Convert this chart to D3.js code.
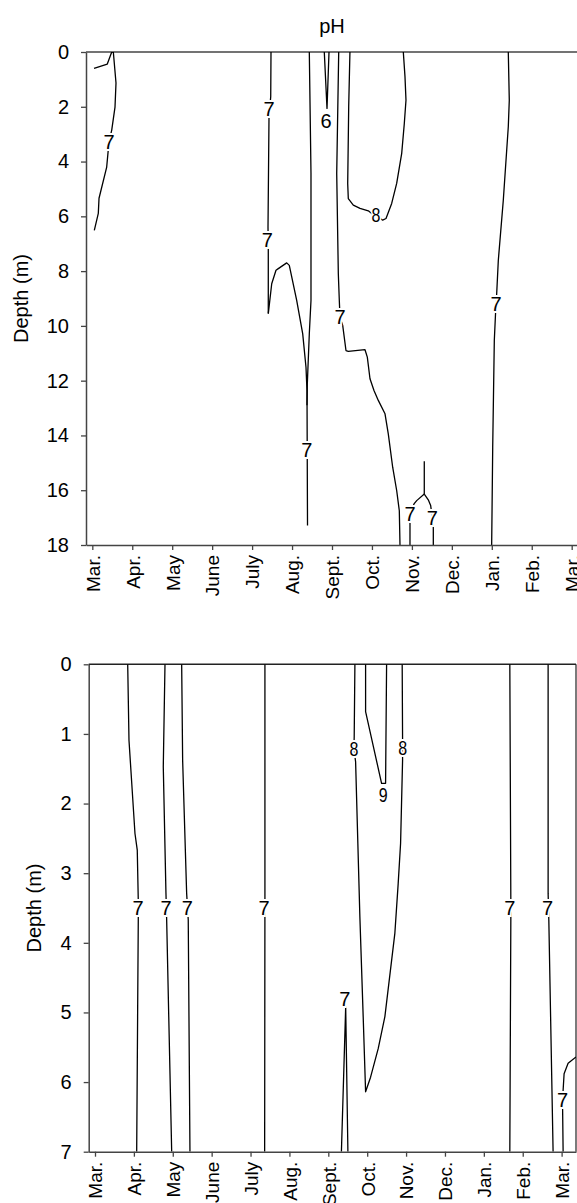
<!DOCTYPE html>
<html><head><meta charset="utf-8">
<script src="https://cdn.jsdelivr.net/npm/d3@7"></script>
<style>body{margin:0;background:#fff}svg{display:block}text{font-family:"Liberation Sans",Arial,sans-serif}</style>
</head><body><svg id="c" width="577" height="1203"></svg>
<script>
// ---- data (x = months since March, y = depth in m) ----
const months = ["Mar.","Apr.","May","June","July","Aug.","Sept.","Oct.","Nov.","Dec.","Jan.","Feb.","Mar."];
const topDepthTicks = [0,2,4,6,8,10,12,14,16,18];
const bottomDepthTicks = [0,1,2,3,4,5,6,7];
const title = "pH";

// top panel contour lines
const topLineA = [[0.043,0.60],[0.375,0.44],[0.486,0],[0.526,0],[0.593,1.13],[0.568,2.01],[0.486,2.85],[0.418,3.28],[0.36,4.20],[0.168,5.34],[0.150,5.89],[0.050,6.51]];
const topLineB1 = [[4.473,0],[4.466,1.63],[4.423,2.37],[4.398,6.39],[4.405,7.18],[4.405,9.07],[4.405,9.55]];
const topLineB2 = [[4.405,9.55],[4.491,8.46],[4.598,7.97],[4.656,7.91],[4.866,7.70],[4.931,7.79],[5.116,9.07],[5.267,10.29],[5.349,11.51],[5.374,12.36],[5.387,17.29]];
const topLineC = [[5.432,0],[5.474,4.42],[5.474,9.07],[5.432,10.29],[5.382,12.11],[5.374,12.9]];
const topLineD = [[5.807,0],[5.875,2.06],[5.925,0]];
const topLineE = [[6.168,0],[6.118,4.44],[6.158,8.09],[6.183,9.07],[6.2,9.68],[6.268,9.98],[6.35,10.90],[6.408,10.93],[6.826,10.87],[6.884,11.14],[6.951,11.93],[7.051,12.36],[7.159,12.72],[7.327,13.21],[7.409,13.94],[7.519,15.16],[7.619,16.01],[7.685,16.75],[7.702,18]];
const topLineF = [[6.449,0],[6.418,2.0],[6.393,4.80],[6.408,5.35],[6.533,5.59],[6.701,5.71],[6.909,5.80],[6.994,5.90],[7.101,5.96],[7.269,6.14],[7.352,6.08],[7.494,5.53],[7.619,4.80],[7.745,3.70],[7.810,2.61],[7.852,1.76],[7.827,0.90],[7.785,0]];
const topLineG = [[10.413,0],[10.438,1.76],[10.413,2.73],[10.288,5.41],[10.163,7.61],[10.123,8.82],[10.105,9.19],[10.063,10.53],[10.023,14.43],[9.997,18]];
const topLineH1 = [[8.31,14.94],[8.31,16.14]];
const topLineH2 = [[8.31,16.14],[8.12,16.38],[8.053,16.50],[7.952,16.87],[7.952,17.23],[7.952,18]];
const topLineH3 = [[8.31,16.14],[8.41,16.35],[8.47,16.56],[8.51,16.99],[8.536,17.36],[8.536,18]];
const topLabels = [[0.418,3.28,"7"],[4.423,2.06,"7"],[4.38,6.84,"7"],[5.367,14.53,"7"],[5.85,2.52,"6"],[6.2,9.68,"7"],[7.101,5.96,"8"],[10.105,9.19,"7"],[7.952,16.87,"7"],[8.51,16.99,"7"]];

// bottom panel contour lines
const botLine1 = [[0.841,0],[0.874,1.09],[1.028,2.43],[1.087,2.67],[1.113,3.39],[1.113,3.67],[1.072,7]];
const botLine2 = [[1.8,0],[1.756,1.47],[1.825,3.29],[1.843,3.67],[1.972,7]];
const botLine3 = [[2.229,0],[2.254,1.38],[2.357,3.29],[2.398,3.67],[2.442,7]];
const botLine4 = [[4.37,0],[4.37,3.39],[4.363,7]];
const botLine5 = [[6.337,7],[6.447,4.92],[6.504,7]];
const botLine6 = [[6.684,0],[6.666,1.04],[6.658,1.21],[6.702,1.40],[6.812,3.63],[6.897,5.06],[6.959,6.14],[7.087,5.93],[7.283,5.52],[7.455,5.06],[7.712,3.86],[7.797,3.15],[7.859,2.57],[7.910,1.38],[7.91,1.20],[7.91,1.06],[7.9,0]];
const botLine7 = [[6.959,0],[6.959,0.68],[7.370,1.71],[7.473,1.71],[7.499,0]];
const botLine8 = [[10.668,0],[10.694,3.39],[10.694,3.67],[10.668,7]];
const botLine9 = [[11.653,0],[11.653,3.29],[11.671,3.67],[11.781,7]];
const botLine10 = [[12.039,7],[12.023,6.26],[12.064,5.88],[12.167,5.73],[12.37,5.64]];
const botLabels = [[1.105,3.5,"7"],[1.83,3.5,"7"],[2.375,3.5,"7"],[4.345,3.5,"7"],[6.427,4.8,"7"],[6.658,1.21,"8"],[7.91,1.2,"8"],[7.411,1.88,"9"],[10.668,3.5,"7"],[11.638,3.5,"7"],[12.023,6.26,"7"]];

const topLines = [topLineA,topLineB1,topLineB2,topLineC,topLineD,topLineE,topLineF,topLineG,topLineH1,topLineH2,topLineH3];
const botLines = [botLine1,botLine2,botLine3,botLine4,botLine5,botLine6,botLine7,botLine8,botLine9,botLine10];

const svg = d3.select("#c");
const AX = "#444";
const FONT = '"Liberation Sans",Arial,sans-serif';

function panel(cfg){
  const x = d3.scaleLinear().domain(cfg.xDomain).range([cfg.left, cfg.right]);
  const y = d3.scaleLinear().domain([0, cfg.maxDepth]).range([cfg.top, cfg.bottom]);
  const g = svg.append("g");
  const cid = "clip" + cfg.id;
  svg.append("defs").append("clipPath").attr("id", cid)
    .append("rect").attr("x", cfg.left).attr("y", cfg.top)
    .attr("width", cfg.right - cfg.left).attr("height", cfg.bottom - cfg.top);

  // frame top/right
  g.append("line").attr("x1", cfg.left).attr("x2", cfg.right).attr("y1", cfg.top).attr("y2", cfg.top)
    .attr("stroke", cfg.topColor).attr("stroke-width", 1.4);
  g.append("line").attr("x1", cfg.right).attr("x2", cfg.right).attr("y1", cfg.top).attr("y2", cfg.bottom)
    .attr("stroke", cfg.topColor).attr("stroke-width", 1.2);

  const line = d3.line().x(p => x(p[0])).y(p => y(p[1]));
  const cg = g.append("g").attr("clip-path", `url(#${cid})`);
  cg.selectAll("path.ct").data(cfg.lines).join("path").attr("class","ct")
    .attr("d", line).attr("fill","none").attr("stroke","#000").attr("stroke-width",1.3)
    .attr("stroke-linejoin","round");
  cg.selectAll("text.lb").data(cfg.labels).join("text").attr("class","lb")
    .attr("transform", d => `translate(${x(d[0])},${y(d[1])}) scale(${d[2]==="7"||d[2]==="6"?1:0.8},1)`)
    .attr("text-anchor","middle").attr("dy","0.36em")
    .attr("font-size", 20).attr("fill","#000")
    .attr("stroke","#fff").attr("stroke-width",4).attr("paint-order","stroke")
    .text(d => d[2]);

  // y axis
  const ya = d3.axisLeft(y).tickValues(cfg.yTicks).tickFormat(d3.format("d"))
    .tickSize(5).tickSizeOuter(0).tickPadding(12);
  const yg = g.append("g").attr("transform", `translate(${cfg.left},0)`).call(ya);
  yg.select(".domain").attr("stroke", AX).attr("stroke-width", 1.5);
  yg.selectAll(".tick line").attr("stroke", AX).attr("stroke-width", 1.3);
  yg.selectAll(".tick text").attr("font-size", 20).attr("fill","#000").attr("font-family", FONT);

  // x axis
  const xa = d3.axisBottom(x).tickValues(d3.range(months.length)).tickFormat(i => months[i])
    .tickSize(5).tickSizeOuter(0);
  const xg = g.append("g").attr("transform", `translate(0,${cfg.bottom})`).call(xa);
  xg.select(".domain").attr("stroke", AX).attr("stroke-width", 1.5);
  xg.selectAll(".tick line").attr("stroke", AX).attr("stroke-width", 1.3);
  xg.selectAll(".tick text").attr("font-size", 19).attr("fill","#000")
    .attr("font-family", FONT)
    .attr("transform","rotate(-90)").attr("text-anchor","end")
    .attr("x", -10).attr("y", 0).attr("dy","0.36em");

  // y label
  g.append("text").attr("transform", `translate(${cfg.ylabelX},${(cfg.top+cfg.bottom)/2}) rotate(-90)`)
    .attr("text-anchor","middle").attr("dy","0.36em").attr("font-size",20).text("Depth (m)");
  return {x, y};
}

panel({id:"t", xDomain:[-0.158,12.158], left:86, right:578, top:52, bottom:545, maxDepth:18,
  yTicks: topDepthTicks, lines: topLines, labels: topLabels, ylabelX: 21, topColor: AX});
panel({id:"b", xDomain:[-0.162,12.37], left:88.7, right:576, top:664.3, bottom:1151.7, maxDepth:7,
  yTicks: bottomDepthTicks, lines: botLines, labels: botLabels, ylabelX: 34, topColor: "#222"});

svg.append("text").attr("x", 332).attr("y", 33).attr("text-anchor","middle").attr("font-size",20).text(title);
</script></body></html>
